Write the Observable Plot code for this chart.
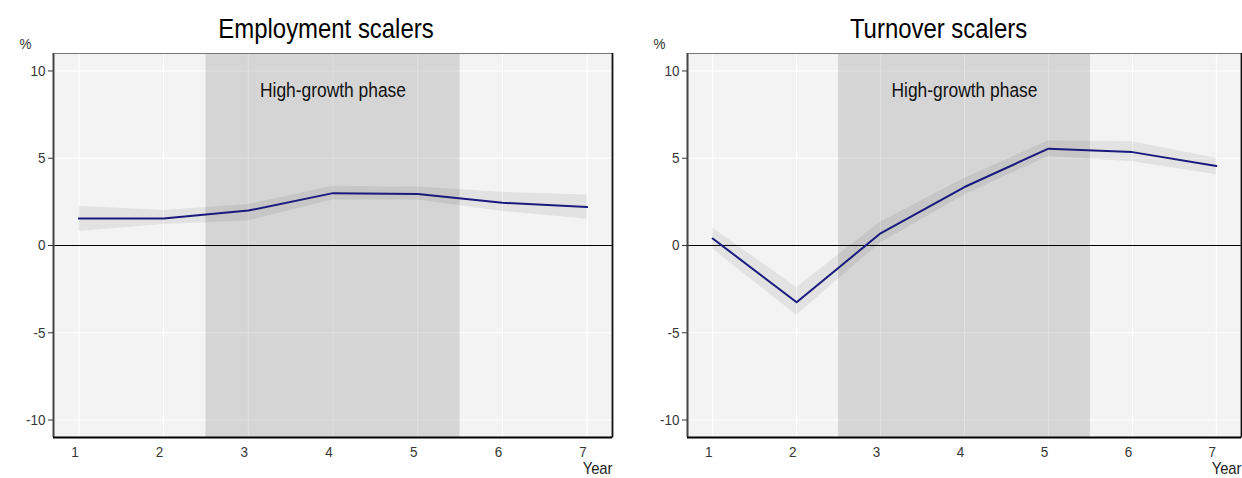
<!DOCTYPE html>
<html>
<head>
<meta charset="utf-8">
<script src="https://cdn.jsdelivr.net/npm/d3@7"></script>
<script src="https://cdn.jsdelivr.net/npm/@observablehq/plot@0.6"></script>
<style>
  html, body { margin: 0; padding: 0; background: #ffffff; }
  #wrap { position: relative; width: 1242px; height: 478px; overflow: hidden; }
  #wrap svg { position: absolute; top: 0; }
</style>
</head>
<body>
<div id="wrap"></div>
<script>
// Years since start
const years = [1, 2, 3, 4, 5, 6, 7];

// Employment scalers: estimate and confidence band (%)
const empEstimate = [1.55, 1.55, 2.0, 3.0, 2.95, 2.45, 2.2];
const empLower    = [0.8, 1.2, 1.4, 2.6, 2.6, 1.95, 1.5];
const empUpper    = [2.25, 2.0, 2.35, 3.4, 3.35, 3.05, 2.9];

// Turnover scalers: estimate and confidence band (%)
const turnEstimate = [0.4, -3.25, 0.7, 3.35, 5.55, 5.35, 4.55];
const turnLower    = [-0.2, -4.0, 0.15, 2.9, 5.1, 4.8, 4.05];
const turnUpper    = [1.0, -2.4, 1.35, 3.85, 6.0, 5.95, 5.0];

// High-growth phase spans years 3 to 5
const phaseStart = [2.5];
const phaseEnd = [5.5];
const phaseLabel = ["High-growth phase"];

const yTicks = [-10, -5, 0, 5, 10];
const xTicks = years;

const FONT = "'Liberation Sans', Arial, Helvetica, sans-serif";
const SQUEEZE = 0.87;
const plainNumber = (d) => String(d);

function panel({title, est, lo, hi, left, width, marginLeft, marginRight, titleDx}) {
  const rows = years.map((yr, i) => ({year: yr, est: est[i], lo: lo[i], hi: hi[i]}));
  const phase = phaseStart.map((s, i) => ({start: s, end: phaseEnd[i], label: phaseLabel[i], mid: (s + phaseEnd[i]) / 2}));

  const chart = Plot.plot({
    width,
    height: 478,
    marginLeft,
    marginRight,
    marginTop: 53,
    marginBottom: 41,
    style: {fontFamily: FONT, fontSize: "15px", background: "transparent", overflow: "visible"},
    x: {domain: [0.7, 7.3]},
    y: {domain: [-11, 11]},
    marks: [
      Plot.frame({fill: "#f3f3f3", stroke: null}),
      Plot.gridX({ticks: xTicks, stroke: "#ffffff", strokeOpacity: 1, strokeWidth: 1}),
      Plot.gridY({ticks: yTicks, stroke: "#ffffff", strokeOpacity: 1, strokeWidth: 1}),
      Plot.rect(phase, {x1: "start", x2: "end", fill: "#000000", fillOpacity: 0.12}),
      Plot.areaY(rows, {x: "year", y1: "lo", y2: "hi", fill: "#000000", fillOpacity: 0.065}),
      Plot.ruleY([0], {stroke: "#000000", strokeWidth: 1}),
      Plot.line(rows, {x: "year", y: "est", stroke: "#1a1a7e", strokeWidth: 2}),
      Plot.text(phase, {x: "mid", y: 8.9, text: "label", fontSize: 20, fill: "#111111"}),
      Plot.axisY({ticks: yTicks, tickFormat: plainNumber, tickSize: 5, tickPadding: 3, stroke: "#333333", color: "#363636", fontSize: 15.5, label: null}),
      Plot.axisX({ticks: xTicks, tickFormat: plainNumber, tickSize: 0, tickPadding: 8, dx: -4, color: "#363636", fontSize: 15.5, label: null}),
      Plot.frame({stroke: "#777777", strokeWidth: 1, fill: null}),
      Plot.ruleX([0.7], {stroke: "#444444", strokeWidth: 2}),
      Plot.ruleX([7.3], {stroke: "#111111", strokeWidth: 1.8}),
      Plot.ruleY([-11], {stroke: "#000000", strokeWidth: 2.2}),
      Plot.text([title], {frameAnchor: "top", lineAnchor: "middle", dy: -24, dx: titleDx, fontSize: 27.5, fill: "#000000"}),
      Plot.text(["%"], {frameAnchor: "top-left", lineAnchor: "middle", dx: -34, dy: -9, fontSize: 15.5, fill: "#333333"}),
      Plot.text(["Year"], {frameAnchor: "bottom-right", lineAnchor: "middle", textAnchor: "end", dy: 31, fontSize: 17, fill: "#222222"})
    ]
  });

  // Narrow the lettering horizontally around each text anchor
  chart.querySelectorAll("text").forEach((t) => {
    const tr = t.getAttribute("transform") || "";
    t.setAttribute("transform", (tr + ` scale(${SQUEEZE},1)`).trim());
  });

  chart.style.left = left + "px";
  return chart;
}

const wrap = document.getElementById("wrap");
wrap.appendChild(panel({
  title: "Employment scalers", est: empEstimate, lo: empLower, hi: empUpper,
  left: 0, width: 621, marginLeft: 53, marginRight: 9, titleDx: -7
}));
wrap.appendChild(panel({
  title: "Turnover scalers", est: turnEstimate, lo: turnLower, hi: turnUpper,
  left: 630, width: 612, marginLeft: 57, marginRight: 1, titleDx: -26
}));
</script>
</body>
</html>
